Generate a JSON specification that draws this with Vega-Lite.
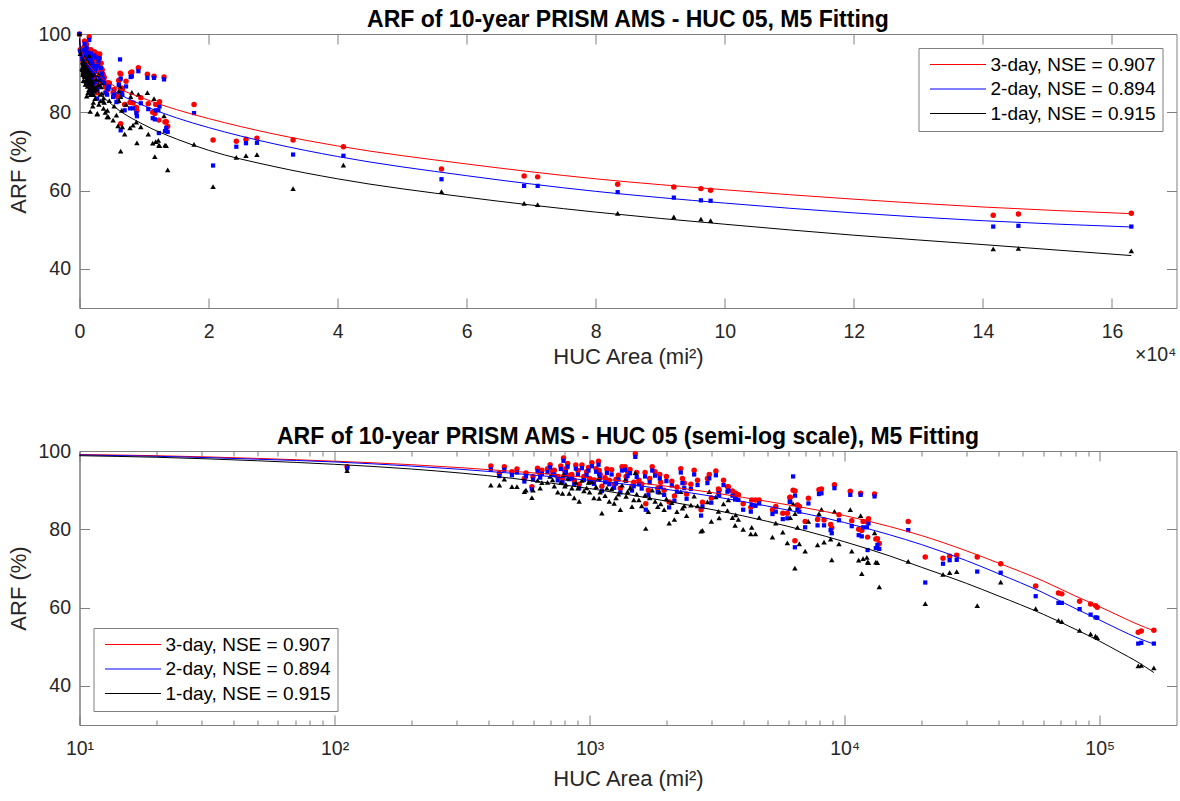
{
  "$schema": "https://vega.github.io/schema/vega-lite/v6.json",
  "background": "white",
  "padding": {"left": 6.5, "top": 8, "right": 0, "bottom": 4},
  "config": {
    "font": "Liberation Sans",
    "view": {"stroke": "#7f7f7f", "strokeWidth": 1},
    "axis": {"grid": false, "domainColor": "#7f7f7f", "tickColor": "#7f7f7f", "labelFont": "Liberation Sans", "labelFontSize": 19.5, "labelColor": "#262626", "titleFont": "Liberation Sans", "titleFontSize": 22, "titleFontWeight": "normal", "titleColor": "#262626", "labelFlush": false, "labelOverlap": false},
    "title": {"font": "Liberation Sans", "fontSize": 23, "fontWeight": "bold", "color": "#000000", "anchor": "middle", "offset": -8},
    "legend": {"title": null, "symbolType": "M-5.6,0L5.6,0", "symbolSize": 100, "symbolOffset": 23, "symbolStrokeWidth": 1, "symbolFillColor": "transparent", "labelFontSize": 19, "labelFont": "Liberation Sans", "labelColor": "#000000", "labelLimit": 400, "padding": 7, "strokeColor": "#7f7f7f", "fillColor": "#ffffff", "labelOffset": 23, "rowPadding": 4.5}
  },
  "datasets": {
    "fit": [
      {"A":10,"r":99.1,"b":99.0,"k":98.8},
      {"A":20,"r":98.8,"b":98.65,"k":98.4},
      {"A":50,"r":98.1,"b":97.9,"k":97.5},
      {"A":100,"r":97.4,"b":97.2,"k":96.6},
      {"A":200,"r":96.5,"b":96.15,"k":95.4},
      {"A":500,"r":94.8,"b":94.3,"k":93.0},
      {"A":1000,"r":93.2,"b":92.5,"k":90.4},
      {"A":2000,"r":91.0,"b":90.2,"k":87.2},
      {"A":5000,"r":87.1,"b":85.9,"k":82.0},
      {"A":10000,"r":83.5,"b":81.7,"k":76.8},
      {"A":15000,"r":80.7,"b":78.6,"k":73.2},
      {"A":20000,"r":78.4,"b":76.1,"k":70.3},
      {"A":30000,"r":74.5,"b":72.0,"k":66.2},
      {"A":40000,"r":71.4,"b":68.7,"k":63.0},
      {"A":60000,"r":66.8,"b":63.8,"k":58.3},
      {"A":80000,"r":63.0,"b":59.8,"k":54.5},
      {"A":100000,"r":60.2,"b":56.8,"k":51.4},
      {"A":120000,"r":57.8,"b":54.3,"k":48.6},
      {"A":140000,"r":55.8,"b":52.3,"k":46.2},
      {"A":163000,"r":54.1,"b":50.7,"k":43.4}
    ],
    "pts": [
      {"A":0,"r":100,"b":100,"k":100},
      {"A":112,"r":96.0,"b":95.6,"k":95.0},
      {"A":410,"r":96.2,"b":95.3,"k":91.3},
      {"A":443,"r":94.3,"b":93.6,"k":91.3},
      {"A":463,"r":96.0,"b":95.2,"k":92.8},
      {"A":496,"r":94.7,"b":93.8,"k":90.9},
      {"A":519,"r":95.4,"b":94.5,"k":90.9},
      {"A":555,"r":93.0,"b":92.2,"k":89.6},
      {"A":563,"r":94.4,"b":93.5,"k":90.0},
      {"A":594,"r":90.9,"b":90.2,"k":88.1},
      {"A":600,"r":93.5,"b":92.7,"k":90.0},
      {"A":625,"r":95.6,"b":94.8,"k":92.5},
      {"A":640,"r":94.0,"b":93.2,"k":90.5},
      {"A":650,"r":95.1,"b":94.2,"k":91.9},
      {"A":684,"r":95.5,"b":94.6,"k":92.0},
      {"A":700,"r":96.5,"b":95.8,"k":93.5},
      {"A":716,"r":94.8,"b":93.9,"k":92.6},
      {"A":727,"r":95.1,"b":94.0,"k":91.0},
      {"A":750,"r":93.5,"b":92.5,"k":89.5},
      {"A":771,"r":96.2,"b":95.4,"k":92.0},
      {"A":783,"r":93.0,"b":92.0,"k":89.2},
      {"A":790,"r":98.2,"b":97.5,"k":94.0},
      {"A":800,"r":94.8,"b":93.9,"k":91.0},
      {"A":807,"r":95.5,"b":94.6,"k":91.5},
      {"A":820,"r":96.8,"b":96.0,"k":93.0},
      {"A":832,"r":93.8,"b":92.8,"k":89.2},
      {"A":852,"r":94.0,"b":93.0,"k":90.5},
      {"A":870,"r":92.5,"b":91.5,"k":88.0},
      {"A":883,"r":96.4,"b":95.5,"k":92.0},
      {"A":900,"r":95.0,"b":94.0,"k":90.5},
      {"A":910,"r":91.5,"b":90.5,"k":87.1},
      {"A":933,"r":96.4,"b":95.6,"k":92.5},
      {"A":950,"r":93.5,"b":92.6,"k":89.8},
      {"A":973,"r":94.7,"b":93.8,"k":90.6},
      {"A":990,"r":95.8,"b":95.0,"k":92.0},
      {"A":1000,"r":93.0,"b":92.0,"k":89.5},
      {"A":1021,"r":97.0,"b":96.1,"k":92.1},
      {"A":1040,"r":92.5,"b":91.6,"k":88.0},
      {"A":1060,"r":95.5,"b":94.7,"k":90.9},
      {"A":1084,"r":97.4,"b":96.5,"k":93.0},
      {"A":1090,"r":95.0,"b":94.0,"k":87.9},
      {"A":1100,"r":94.0,"b":93.0,"k":89.5},
      {"A":1117,"r":91.0,"b":89.8,"k":84.1},
      {"A":1150,"r":93.2,"b":92.0,"k":88.6},
      {"A":1169,"r":95.4,"b":94.4,"k":90.5},
      {"A":1194,"r":92.5,"b":91.5,"k":87.1},
      {"A":1220,"r":95.2,"b":94.0,"k":90.3},
      {"A":1248,"r":91.5,"b":90.6,"k":86.6},
      {"A":1270,"r":92.8,"b":91.7,"k":88.0},
      {"A":1298,"r":93.8,"b":92.7,"k":89.0},
      {"A":1320,"r":90.5,"b":89.4,"k":85.0},
      {"A":1340,"r":96.0,"b":95.0,"k":91.3},
      {"A":1377,"r":96.0,"b":95.2,"k":92.6},
      {"A":1390,"r":93.5,"b":92.4,"k":88.4},
      {"A":1409,"r":94.7,"b":93.6,"k":89.6},
      {"A":1440,"r":95.3,"b":94.3,"k":90.5},
      {"A":1466,"r":91.0,"b":89.9,"k":85.8},
      {"A":1490,"r":92.0,"b":91.0,"k":87.5},
      {"A":1511,"r":99.3,"b":98.5,"k":94.5},
      {"A":1530,"r":94.5,"b":93.4,"k":89.0},
      {"A":1560,"r":92.5,"b":91.5,"k":87.5},
      {"A":1600,"r":91.6,"b":90.4,"k":86.0},
      {"A":1650,"r":94.5,"b":93.5,"k":88.7},
      {"A":1660,"r":86.5,"b":85.0,"k":80.2},
      {"A":1700,"r":90.0,"b":88.8,"k":84.5},
      {"A":1720,"r":93.0,"b":92.0,"k":88.0},
      {"A":1760,"r":96.0,"b":95.0,"k":90.0},
      {"A":1806,"r":94.7,"b":93.7,"k":87.1},
      {"A":1850,"r":90.5,"b":89.5,"k":85.8},
      {"A":1884,"r":94.0,"b":93.0,"k":89.5},
      {"A":1900,"r":92.0,"b":90.8,"k":86.5},
      {"A":1960,"r":90.0,"b":88.8,"k":85.0},
      {"A":2000,"r":93.5,"b":92.3,"k":87.8},
      {"A":2050,"r":87.0,"b":85.6,"k":81.6},
      {"A":2100,"r":92.3,"b":91.2,"k":86.8},
      {"A":2150,"r":88.5,"b":87.3,"k":82.5},
      {"A":2200,"r":90.8,"b":89.6,"k":84.5},
      {"A":2278,"r":95.5,"b":94.5,"k":89.6},
      {"A":2312,"r":93.0,"b":91.8,"k":85.4},
      {"A":2350,"r":91.8,"b":90.5,"k":86.0},
      {"A":2400,"r":89.0,"b":87.8,"k":83.5},
      {"A":2495,"r":91.5,"b":90.3,"k":86.2},
      {"A":2570,"r":95.1,"b":94.0,"k":88.5},
      {"A":2650,"r":92.5,"b":91.3,"k":86.0},
      {"A":2735,"r":85.0,"b":83.5,"k":79.5},
      {"A":2770,"r":86.9,"b":85.8,"k":79.7},
      {"A":2897,"r":93.0,"b":91.8,"k":87.0},
      {"A":2945,"r":94.0,"b":93.0,"k":89.6},
      {"A":3000,"r":88.0,"b":86.8,"k":82.0},
      {"A":3126,"r":94.9,"b":93.8,"k":88.3},
      {"A":3200,"r":90.3,"b":89.2,"k":84.6},
      {"A":3221,"r":90.0,"b":88.8,"k":82.9},
      {"A":3350,"r":92.5,"b":91.3,"k":86.5},
      {"A":3470,"r":90.9,"b":89.6,"k":84.8},
      {"A":3500,"r":90.9,"b":89.9,"k":87.5},
      {"A":3630,"r":89.8,"b":88.6,"k":83.0},
      {"A":3720,"r":88.8,"b":87.6,"k":81.0},
      {"A":3740,"r":89.2,"b":88.0,"k":83.7},
      {"A":3830,"r":88.8,"b":87.5,"k":82.5},
      {"A":4000,"r":86.5,"b":85.0,"k":80.0},
      {"A":4285,"r":85.6,"b":84.5,"k":78.8},
      {"A":4320,"r":87.5,"b":86.2,"k":80.5},
      {"A":4470,"r":87.5,"b":86.0,"k":78.8},
      {"A":4620,"r":87.5,"b":86.6,"k":83.0},
      {"A":5210,"r":85.0,"b":83.9,"k":78.0},
      {"A":5370,"r":85.8,"b":84.5,"k":81.6},
      {"A":5720,"r":84.1,"b":82.6,"k":79.3},
      {"A":5960,"r":84.1,"b":82.8,"k":76.5},
      {"A":6090,"r":88.1,"b":87.0,"k":85.4},
      {"A":6120,"r":88.2,"b":87.0,"k":83.0},
      {"A":6280,"r":90.0,"b":93.5,"k":86.5},
      {"A":6380,"r":77.1,"b":75.4,"k":70.1},
      {"A":6390,"r":89.8,"b":88.6,"k":84.0},
      {"A":6530,"r":86.2,"b":85.0,"k":80.5},
      {"A":6640,"r":85.8,"b":84.5,"k":76.3},
      {"A":7000,"r":82.0,"b":80.5,"k":74.4},
      {"A":7210,"r":87.9,"b":86.6,"k":82.0},
      {"A":7830,"r":82.5,"b":81.0,"k":76.0},
      {"A":7930,"r":90.1,"b":89.0,"k":84.0},
      {"A":8110,"r":90.3,"b":89.2,"k":85.1},
      {"A":8300,"r":82.4,"b":81.0,"k":76.7},
      {"A":8810,"r":81.2,"b":79.8,"k":77.5},
      {"A":8900,"r":80.3,"b":79.0,"k":72.2},
      {"A":9120,"r":91.4,"b":90.5,"k":84.6},
      {"A":9500,"r":83.7,"b":82.3,"k":76.3},
      {"A":10520,"r":89.7,"b":88.8,"k":85.0},
      {"A":10660,"r":82.2,"b":80.8,"k":74.4},
      {"A":11350,"r":80.0,"b":78.5,"k":72.1},
      {"A":11550,"r":89.2,"b":88.8,"k":83.5},
      {"A":11670,"r":79.7,"b":78.2,"k":68.7},
      {"A":11810,"r":82.0,"b":80.5,"k":72.5},
      {"A":12220,"r":81.9,"b":80.5,"k":72.8},
      {"A":12300,"r":78.0,"b":74.7,"k":71.6},
      {"A":12400,"r":82.7,"b":81.5,"k":71.5},
      {"A":13100,"r":89.0,"b":88.4,"k":79.1},
      {"A":13250,"r":77.5,"b":75.2,"k":71.6},
      {"A":13440,"r":77.6,"b":76.0,"k":71.5},
      {"A":13670,"r":76.4,"b":75.0,"k":65.3},
      {"A":17750,"r":82.0,"b":79.8,"k":71.8},
      {"A":20700,"r":72.9,"b":66.4,"k":61.0},
      {"A":24300,"r":72.6,"b":71.2,"k":68.5},
      {"A":25800,"r":73.1,"b":72.1,"k":68.9},
      {"A":27500,"r":73.4,"b":72.2,"k":69.2},
      {"A":33100,"r":72.9,"b":69.2,"k":60.5},
      {"A":40900,"r":71.2,"b":68.9,"k":66.5},
      {"A":56100,"r":65.5,"b":62.9,"k":59.7},
      {"A":68900,"r":63.7,"b":61.2,"k":56.7},
      {"A":71000,"r":63.5,"b":61.2,"k":56.4},
      {"A":83400,"r":61.6,"b":59.6,"k":54.2},
      {"A":92100,"r":60.9,"b":58.2,"k":53.3},
      {"A":96300,"r":60.5,"b":57.5,"k":52.7},
      {"A":97800,"r":60.1,"b":57.4,"k":52.3},
      {"A":141600,"r":53.7,"b":50.8,"k":45.1},
      {"A":145500,"r":54.0,"b":51.0,"k":45.2},
      {"A":163000,"r":54.2,"b":50.8,"k":44.6}
    ]
  },
  "resolve": {"scale": {"color": "independent"}, "legend": {"color": "independent"}},
  "spacing": 57,
  "vconcat": [
    {
      "title": {"text": "ARF of 10-year PRISM AMS - HUC 05, M5 Fitting"},
      "width": 1097,
      "height": 274,
      "resolve": {"axis": {"x": "independent", "y": "independent"}},
      "layer": [
        {
          "data": {"name": "pts"},
          "mark": {"type": "point", "shape": "circle", "filled": true, "size": 30, "color": "#ff0000", "opacity": 1},
          "encoding": {
            "x": {"field": "A", "type": "quantitative", "scale": {"domain": [0, 170000], "nice": false, "zero": false}, "axis": {"orient": "top", "values": [0,20000,40000,60000,80000,100000,120000,140000,160000], "labels": false, "title": null, "tickSize": -10, "domain": false, "minExtent": 0}},
            "y": {"field": "r", "type": "quantitative", "scale": {"domain": [30, 100], "nice": false, "zero": false}, "axis": {"orient": "right", "values": [40,60,80,100], "labels": false, "title": null, "tickSize": -10, "domain": false, "minExtent": 0}}
          }
        },
        {
          "data": {"name": "pts"},
          "mark": {"type": "point", "shape": "square", "filled": true, "size": 18, "color": "#0000ff", "opacity": 1},
          "encoding": {
            "x": {"field": "A", "type": "quantitative", "axis": null},
            "y": {"field": "b", "type": "quantitative", "axis": null}
          }
        },
        {
          "data": {"name": "pts"},
          "mark": {"type": "point", "shape": "triangle-up", "filled": true, "size": 30, "color": "#000000", "opacity": 1},
          "encoding": {
            "x": {"field": "A", "type": "quantitative", "axis": null},
            "y": {"field": "k", "type": "quantitative", "axis": null}
          }
        },
        {
          "data": {"name": "fit"},
          "transform": [{"fold": ["r", "b", "k"], "as": ["s", "v"]}],
          "mark": {"type": "line", "strokeWidth": 1, "interpolate": "monotone"},
          "encoding": {
            "x": {"field": "A", "type": "quantitative", "axis": {"orient": "bottom", "values": [0,20000,40000,60000,80000,100000,120000,140000,160000], "labelExpr": "format(datum.value/10000, 'd')", "tickSize": -10, "labelPadding": 24, "title": "HUC Area (mi²)", "titlePadding": 6}},
            "y": {"field": "v", "type": "quantitative", "axis": {"orient": "left", "values": [40,60,80,100], "tickSize": -10, "labelPadding": 19, "title": "ARF (%)", "titlePadding": 7}},
            "color": {"field": "s", "type": "nominal", "scale": {"domain": ["r", "b", "k"], "range": ["#ff0000", "#0000ff", "#000000"]}, "legend": {"orient": "top-right", "offset": 14, "labelExpr": "datum.value == 'r' ? '3-day, NSE = 0.907' : datum.value == 'b' ? '2-day, NSE = 0.894' : '1-day, NSE = 0.915'", "encode": {"symbols": {"update": {"stroke": {"signal": "datum.value === 'r' ? '#ff0000' : datum.value === 'b' ? '#0000ff' : '#000000'"}, "fill": {"value": "transparent"}}}}}}
          }
        },
        {
          "data": {"values": [{}]},
          "mark": {"type": "text", "text": "×10⁴", "align": "right", "baseline": "top", "dy": 38, "fontSize": 19.5, "color": "#262626", "font": "Liberation Sans"},
          "encoding": {
            "x": {"datum": 170000, "type": "quantitative", "axis": null},
            "y": {"datum": 30, "type": "quantitative", "axis": null}
          }
        }
      ]
    },
    {
      "title": {"text": "ARF of 10-year PRISM AMS - HUC 05 (semi-log scale), M5 Fitting"},
      "width": 1097,
      "height": 274,
      "resolve": {"axis": {"x": "independent", "y": "independent"}},
      "layer": [
        {
          "data": {"name": "pts"},
          "transform": [{"filter": "datum.A > 0"}],
          "mark": {"type": "point", "shape": "circle", "filled": true, "size": 30, "color": "#ff0000", "opacity": 1},
          "encoding": {
            "x": {"field": "A", "type": "quantitative", "scale": {"type": "log", "domain": [10, 200000], "nice": false}, "axis": {"orient": "top", "values": [10,20,30,40,50,60,70,80,90,100,200,300,400,500,600,700,800,900,1000,2000,3000,4000,5000,6000,7000,8000,9000,10000,20000,30000,40000,50000,60000,70000,80000,90000,100000], "labels": false, "title": null, "tickSize": {"condition": {"test": "datum.value === 10 || datum.value === 100 || datum.value === 1000 || datum.value === 10000 || datum.value === 100000", "value": -10}, "value": -5}, "domain": false, "minExtent": 0}},
            "y": {"field": "r", "type": "quantitative", "scale": {"domain": [30, 100], "nice": false, "zero": false}, "axis": {"orient": "right", "values": [40,60,80,100], "labels": false, "title": null, "tickSize": -10, "domain": false, "minExtent": 0}}
          }
        },
        {
          "data": {"name": "pts"},
          "transform": [{"filter": "datum.A > 0"}],
          "mark": {"type": "point", "shape": "square", "filled": true, "size": 18, "color": "#0000ff", "opacity": 1},
          "encoding": {
            "x": {"field": "A", "type": "quantitative", "axis": null},
            "y": {"field": "b", "type": "quantitative", "axis": null}
          }
        },
        {
          "data": {"name": "pts"},
          "transform": [{"filter": "datum.A > 0"}],
          "mark": {"type": "point", "shape": "triangle-up", "filled": true, "size": 30, "color": "#000000", "opacity": 1},
          "encoding": {
            "x": {"field": "A", "type": "quantitative", "axis": null},
            "y": {"field": "k", "type": "quantitative", "axis": null}
          }
        },
        {
          "data": {"name": "fit"},
          "transform": [{"fold": ["r", "b", "k"], "as": ["s", "v"]}],
          "mark": {"type": "line", "strokeWidth": 1, "interpolate": "monotone"},
          "encoding": {
            "x": {"field": "A", "type": "quantitative", "axis": {"orient": "bottom", "values": [10,20,30,40,50,60,70,80,90,100,200,300,400,500,600,700,800,900,1000,2000,3000,4000,5000,6000,7000,8000,9000,10000,20000,30000,40000,50000,60000,70000,80000,90000,100000], "labelExpr": "datum.value === 10 ? '10¹' : datum.value === 100 ? '10²' : datum.value === 1000 ? '10³' : datum.value === 10000 ? '10⁴' : datum.value === 100000 ? '10⁵' : ''", "tickSize": {"condition": {"test": "datum.value === 10 || datum.value === 100 || datum.value === 1000 || datum.value === 10000 || datum.value === 100000", "value": -10}, "value": -5}, "labelPadding": 24, "title": "HUC Area (mi²)", "titlePadding": 6}},
            "y": {"field": "v", "type": "quantitative", "axis": {"orient": "left", "values": [40,60,80,100], "tickSize": -10, "labelPadding": 19, "title": "ARF (%)", "titlePadding": 7}},
            "color": {"field": "s", "type": "nominal", "scale": {"domain": ["r", "b", "k"], "range": ["#ff0000", "#0000ff", "#000000"]}, "legend": {"orient": "bottom-left", "offset": 14, "labelExpr": "datum.value == 'r' ? '3-day, NSE = 0.907' : datum.value == 'b' ? '2-day, NSE = 0.894' : '1-day, NSE = 0.915'", "encode": {"symbols": {"update": {"stroke": {"signal": "datum.value === 'r' ? '#ff0000' : datum.value === 'b' ? '#0000ff' : '#000000'"}, "fill": {"value": "transparent"}}}}}}
          }
        }
      ]
    }
  ]
}
